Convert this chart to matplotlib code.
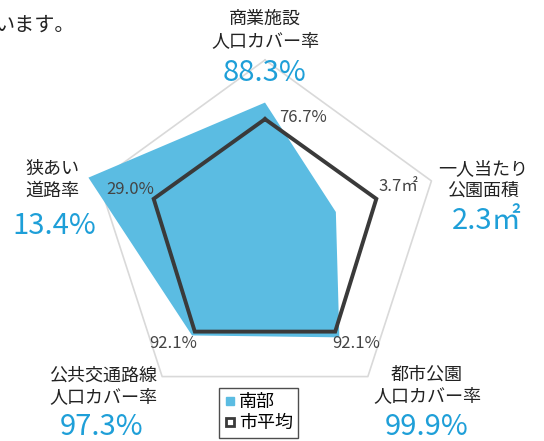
import matplotlib
matplotlib.use("Agg")
import matplotlib.pyplot as plt
import numpy as np
from matplotlib.lines import Line2D

plt.rcParams['font.family'] = ['Noto Sans CJK JP', 'DejaVu Sans']

# axes order: top, then clockwise
categories = ['商業施設\n人口カバー率', '一人当たり\n公園面積', '都市公園\n人口カバー率',
              '公共交通路線\n人口カバー率', '狭あい\n道路率']
nanbu_text = ['88.3%', '2.3㎡', '99.9%', '97.3%', '13.4%']
city_text = ['76.7%', '3.7㎡', '92.1%', '92.1%', '29.0%']
# scores relative to city average (= about 100), outer frame = 148
nanbu_score = [112, 63, 107, 105, 157]
city_score = [98, 99, 101, 101, 99]
frame_max = 148

W, H = 544, 441
BLUE = '#5bbce2'
VALUE_BLUE = '#1e9fd8'
DARK = '#3a3a3a'


def px(x, y):
    return x / W, 1 - y / H


fig = plt.figure(figsize=(W / 100, H / 100), dpi=100)

cx, cy, R = 265, 235, 175
ax = fig.add_axes([(cx - R) / W, 1 - (cy + R) / H, 2 * R / W, 2 * R / H],
                  projection='polar')
ax.set_theta_offset(np.pi / 2)
ax.set_theta_direction(-1)
ax.set_ylim(0, frame_max)
ax.axis('off')

n = len(categories)
ang = np.linspace(0, 2 * np.pi, n, endpoint=False)
ang_c = np.append(ang, ang[0])

ax.plot(ang_c, [frame_max] * (n + 1), color='#d9d9d9', lw=1.2, zorder=1,
        clip_on=False)
ax.fill(ang_c, nanbu_score + nanbu_score[:1], color=BLUE, lw=0, zorder=2,
        clip_on=False)
ax.plot(ang_c, city_score + city_score[:1], color=DARK, lw=2.8, zorder=3,
        solid_joinstyle='miter', clip_on=False)

# category names and values (pixel centres)
name_pos = [(265, 30), (483, 180), (427, 385), (103, 386), (52, 180)]
value_pos = [(265, 73), (487, 221), (427, 427), (102, 427), (54, 226)]
avg_pos = [(303, 117), (398, 187), (356, 344), (173, 344), (130, 190)]

for i in range(n):
    fig.text(*px(*name_pos[i]), categories[i], ha='center', va='center',
             fontsize=13, color='#222222', linespacing=1.25)
    fig.text(*px(*value_pos[i]), nanbu_text[i], ha='center', va='center',
             fontsize=21, color=VALUE_BLUE)
    fig.text(*px(*avg_pos[i]), city_text[i], ha='center', va='center',
             fontsize=12, color='#444444')

fig.text(*px(-5, 25), 'います。', ha='left', va='center', fontsize=14.5,
         color='#222222')

handles = [
    Line2D([], [], marker='s', ls='none', markersize=6, color=BLUE,
           label='南部'),
    Line2D([], [], marker='s', ls='none', markersize=6, markerfacecolor='white',
           markeredgecolor=DARK, markeredgewidth=2, label='市平均'),
]
leg = fig.legend(handles=handles, loc='upper left',
                 bbox_to_anchor=px(219, 388), fontsize=13, fancybox=False,
                 edgecolor='#222222', handlelength=0.6, handletextpad=0.2,
                 borderpad=0.3, labelspacing=0.15, borderaxespad=0)
leg.get_frame().set_linewidth(1.0)

fig.savefig('out.png', dpi=100)
